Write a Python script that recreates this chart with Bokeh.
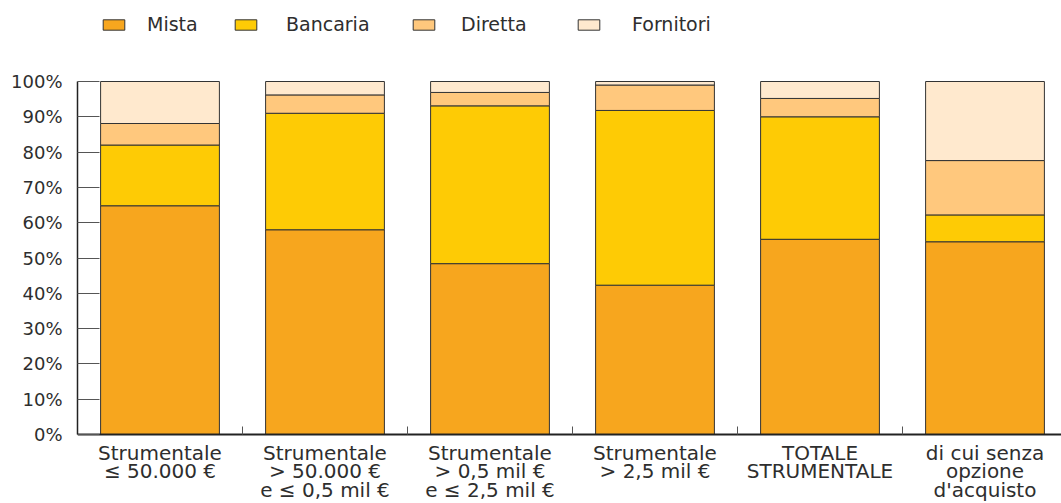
from bokeh.plotting import figure
from bokeh.models import (Range1d, FixedTicker, PrintfTickFormatter, Legend, LegendItem,
                          ColumnDataSource)
from bokeh.embed import file_html
from bokeh.resources import INLINE

# ---- data ----
categories = [
    "Strumentale\n≤ 50.000 €",
    "Strumentale\n> 50.000 €\ne ≤ 0,5 mil €",
    "Strumentale\n> 0,5 mil €\ne ≤ 2,5 mil €",
    "Strumentale\n> 2,5 mil €",
    "TOTALE\nSTRUMENTALE",
    "di cui senza\nopzione\nd'acquisto",
]
series = ["Mista", "Bancaria", "Diretta", "Fornitori"]
mista = [64.8, 58.0, 48.4, 42.3, 55.3, 54.6]
bancaria = [17.2, 33.0, 44.7, 49.5, 34.7, 7.6]
diretta = [6.1, 5.2, 3.8, 7.2, 5.2, 15.4]
fornitori = [11.9, 3.8, 3.1, 1.0, 4.8, 22.4]
y_ticks = [0, 10, 20, 30, 40, 50, 60, 70, 80, 90, 100]

colors = ["#F7A61E", "#FECB05", "#FFC87D", "#FFE9CE"]
FONT = "DejaVu Sans"
TXT = "#2e2e2e"

x_centers = [i + 0.5 for i in range(len(categories))]
x_bounds = [i for i in range(len(categories) + 1)]

src = ColumnDataSource(dict(x=x_centers, Mista=mista, Bancaria=bancaria,
                            Diretta=diretta, Fornitori=fornitori))

PX = 353 / 100.0  # pixels per percentage point
# frame spans the whole figure height; the x axis is pinned at y = 0
p = figure(width=1061, height=503, output_backend="svg", toolbar_location=None,
           x_range=Range1d(0, 984 / 165.0),
           y_range=Range1d(-69 / PX, 434 / PX),
           min_border_left=77, min_border_right=0, min_border_top=0,
           min_border_bottom=0)
p.outline_line_color = None
p.xgrid.visible = False
p.ygrid.visible = False

renderers = p.vbar_stack(series, x="x", width=0.72, source=src, fill_color=colors,
                         line_color="#333333", line_width=1)

# y axis
p.yaxis.ticker = FixedTicker(ticks=y_ticks)
p.yaxis.bounds = (0, 100)
p.yaxis.formatter = PrintfTickFormatter(format="%d%%")
p.yaxis.major_tick_in = 22
p.yaxis.major_tick_out = 0
p.yaxis.minor_tick_line_color = None
p.yaxis.major_tick_line_color = "#555555"
p.yaxis.axis_line_color = "#222222"
p.yaxis.axis_line_width = 1.5
p.yaxis.major_label_standoff = 15
p.yaxis.major_label_text_font = FONT
p.yaxis.major_label_text_font_size = "18px"
p.yaxis.major_label_text_color = TXT

# x axis
p.xaxis.fixed_location = 0
p.xaxis.ticker = FixedTicker(ticks=x_centers, minor_ticks=x_bounds)
p.xaxis.major_label_overrides = {c: lab for c, lab in zip(x_centers, categories)}
p.xaxis.major_tick_in = 0
p.xaxis.major_tick_out = 0
p.xaxis.minor_tick_in = 8
p.xaxis.minor_tick_out = 0
p.xaxis.minor_tick_line_color = "#555555"
p.xaxis.axis_line_color = "#222222"
p.xaxis.axis_line_width = 2
p.xaxis.major_label_standoff = 6
p.xaxis.major_label_text_font = FONT
p.xaxis.major_label_text_font_size = "20px"
p.xaxis.major_label_text_line_height = 0.78
p.xaxis.major_label_text_color = TXT

# legends (one per item, placed above the bars)
leg_x = [23, 155, 333, 498]
leg_standoff = [20, 27, 24, 30]
for name, r, lx, so in zip(series, renderers, leg_x, leg_standoff):
    lg = Legend(items=[LegendItem(label=name, renderers=[r])], location=(lx, 468),
                orientation="horizontal", padding=0, margin=0, spacing=0,
                glyph_width=27, glyph_height=13, label_standoff=so,
                border_line_color=None, background_fill_alpha=0,
                label_text_font=FONT, label_text_font_size="19px",
                label_text_color=TXT)
    p.add_layout(lg, "center")

open("out.html", "w").write(file_html(p, INLINE))
